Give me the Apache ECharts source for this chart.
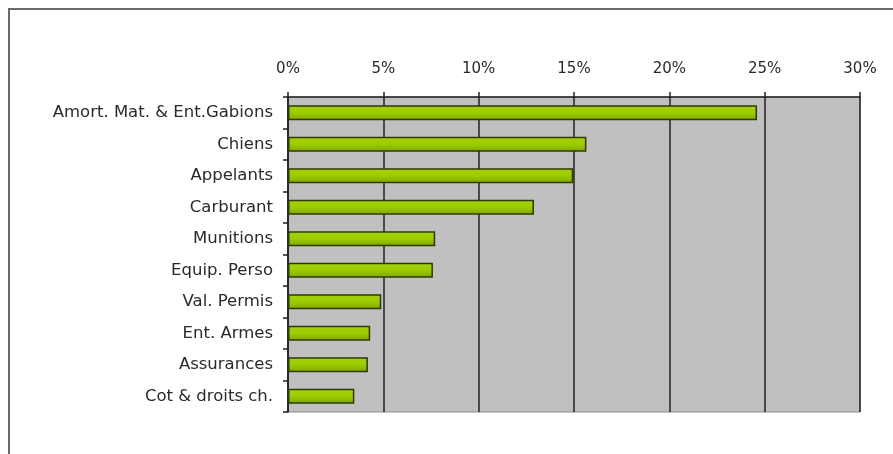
<!DOCTYPE html>
<html>
<head>
<meta charset="utf-8">
<script src="https://cdn.jsdelivr.net/npm/echarts@6/dist/echarts.min.js"></script>
<style>
html,body{margin:0;padding:0;background:#fff;}
#frame{position:absolute;left:8px;top:8px;width:900px;height:460px;border-left:2px solid #6a6a6a;border-top:2px solid #6a6a6a;box-sizing:border-box;}
#chart{position:absolute;left:0;top:0;width:893px;height:454px;}
</style>
</head>
<body>
<div id="frame"></div>
<div id="chart"></div>
<script>
const categories = ["Amort. Mat. & Ent.Gabions","Chiens","Appelants","Carburant","Munitions","Equip. Perso","Val. Permis","Ent. Armes","Assurances","Cot & droits ch."];
const values = [0.246, 0.1565, 0.1496, 0.129, 0.0772, 0.076, 0.0489, 0.0431, 0.0419, 0.0348];
const tickLabels = ["0%","5%","10%","15%","20%","25%","30%"];

const chart = echarts.init(document.getElementById('chart'));
chart.setOption({
  animation: false,
  backgroundColor: 'transparent',
  grid: {left: 288, right: 33, top: 97, bottom: 42, show: true, backgroundColor: '#c0c0c0', borderColor: '#8a8a8a', borderWidth: 1},
  xAxis: {
    type: 'value', position: 'top', min: 0, max: 0.30, interval: 0.05,
    axisLine: {show: true, lineStyle: {color: '#222', width: 1.5}},
    axisTick: {show: true, length: 5, lineStyle: {color: '#222', width: 1.5}},
    splitLine: {show: true, lineStyle: {color: '#222', width: 1.5}},
    axisLabel: {margin: 20, color: '#2a2a2a', fontFamily: 'DejaVu Sans', fontSize: 15,
      formatter: v => tickLabels[Math.round(v / 0.05)]}
  },
  yAxis: {
    type: 'category', data: categories, inverse: true,
    axisLine: {show: true, lineStyle: {color: '#222', width: 1.5}},
    axisTick: {show: true, length: 5, lineStyle: {color: '#222', width: 1.5}},
    axisLabel: {margin: 15, color: '#2a2a2a', fontFamily: 'DejaVu Sans', fontSize: 16.5}
  },
  series: [{
    type: 'bar', data: values, barWidth: 15,
    itemStyle: {
      color: new echarts.graphic.LinearGradient(0, 0, 0, 1, [
        {offset: 0, color: '#a6d10a'}, {offset: 0.5, color: '#9ccc00'}, {offset: 1, color: '#7fa600'}
      ]),
      borderColor: '#2e3a00', borderWidth: 1.5
    }
  }]
});
</script>
</body>
</html>
